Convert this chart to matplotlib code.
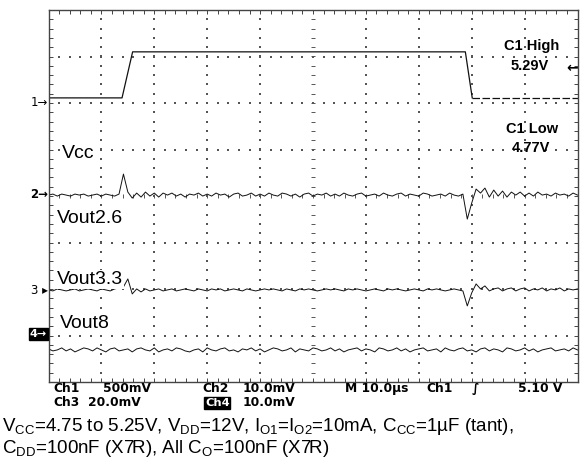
import numpy as np
import matplotlib.pyplot as plt

plt.rcParams['font.family'] = ['Liberation Sans', 'DejaVu Sans']
plt.rcParams['mathtext.fontset'] = 'custom'
plt.rcParams['mathtext.rm'] = 'Liberation Sans'

W, H = 584, 466
PX_DIV_Y = 46.5  # pixels per vertical division

# channel 1 (Vcc step), in divisions
ch1_x = [0, 1.39, 1.59, 7.88, 8.01]
ch1_y = [6.11, 6.11, 7.10, 7.10, 6.11]
ch1_tail_x = [8.01, 10.0]
ch1_tail_y = [6.11, 6.11]

# baselines of the noisy traces (divisions)
ch2_base = 4.02
ch3_base = 1.98
ch4_base = 0.69

# trace samples, offsets in screen pixels (up = positive)
ch2_off = [0, 1, -1, 1, 0, -1, 1, 0, 1, -1,
           0, 1, -1, 1, 0, -1, 1, 21, 3, -3,
           2, -2, 3, -1, 2, -2, 2, 0, 2, -1,
           1, -2, 1, 0, 2, -1, 1, -1, 2, 0,
           1, -2, 1, 2, -1, 0, 2, -1, 1, -1,
           2, 0, -1, 2, 1, -1, 1, -2, 1, 2,
           -1, 1, 0, 2, -1, 1, -1, 2, 0, -1,
           1, 2, -1, 0, 1, -1, 2, 0, -1, 1,
           2, -1, 1, 0, -1, 2, 1, -1, 0, 1,
           -1, 2, 0, -1, 1, -24, -8, 6, 2, 7,
           -2, 5, -1, 4, -2, 3, 0, 3, -1, 2,
           -1, 3, 0, 1, -1, 2, 0, 1, -1, 2,
           0]
ch3_off = [0, -1, 1, 0, -1, 0, 1, -1, 0, 1,
           0, -1, 1, 0, -1, 1, 2, 3, 11, -4,
           1, -2, 1, -1, 0, 1, -1, 0, 1, -1,
           0, 1, 0, -1, 1, 0, -1, 1, 0, 1,
           -1, 0, 1, 0, -1, 1, 0, -1, 0, 1,
           0, 1, 0, -1, 1, 0, -1, 1, 0, 1,
           0, -1, 0, 1, 0, 1, 0, -1, 1, 0,
           1, 0, -1, 0, 1, 0, -1, 1, 0, 1,
           0, -1, 0, 1, 0, -1, 1, 0, 1, 0,
           -1, 0, 1, 0, -1, -16, -3, 6, 1, 4,
           -1, 1, 2, -1, 1, 2, -1, 1, 2, -1,
           1, 0, 2, -1, 1, 0, 2, -1, 1, 0,
           1]
ch4_off = [1, -1, 0, 2, -1, 1, -2, 0, 2, 1,
           -1, 2, 0, -2, 1, 2, -1, 0, 1, -2,
           1, 2, 0, -1, 2, -2, 0, 1, -1, 2,
           1, -1, -2, 0, 1, -2, 2, 0, -1, 1,
           2, -1, 0, -2, 1, 0, 2, -1, 1, -2,
           0, 2, 1, -1, 0, 2, -2, 1, 0, -1,
           2, 1, -1, 0, 2, -1, 1, -2, 0, 1,
           2, -1, 1, 0, -2, 2, 1, -1, 0, 2,
           -1, 1, -2, 0, 1, 2, -1, 0, 1, -2,
           2, 0, -1, 1, 2, -1, 0, -2, 1, 2,
           -1, 1, 0, -2, 2, 1, -1, 0, 2, -1,
           1, -2, 0, 1, 2, -1, 0, 1, -1, 2,
           0]

trace_labels = ['Vcc', 'Vout2.6', 'Vout3.3', 'Vout8']
scope_line1 = [('Ch1', 53), ('500mV', 103), ('Ch2', 202), ('10.0mV', 243),
               ('M 10.0µs', 345), ('Ch1', 426), ('∫', 472), ('5.10 V', 518)]
scope_line2 = [('Ch3', 53), ('20.0mV', 88), ('10.0mV', 243)]
caption1 = (r'V$_\mathregular{CC}$=4.75 to 5.25V, V$_\mathregular{DD}$=12V, '
            r'I$_\mathregular{O1}$=I$_\mathregular{O2}$=10mA, C$_\mathregular{CC}$=1µF (tant),')
caption2 = r'C$_\mathregular{DD}$=100nF (X7R), All C$_\mathregular{O}$=100nF (X7R)'


def fx(x):
    return x / W


def fy(y):
    return 1 - y / H


fig = plt.figure(figsize=(W / 100, H / 100), dpi=100)
ax = fig.add_axes([48.5 / W, 1 - 382 / H, 529 / W, 372 / H])
ax.set_xlim(0, 10)
ax.set_ylim(0, 8)

# graticule
dot_c = '#555555'
for xv in range(1, 10):
    if xv == 5:
        continue
    ax.scatter(np.full(39, xv), np.arange(0.2, 8, 0.2), s=0.8, c=dot_c, marker='s', linewidths=0)
for yv in range(1, 8):
    if yv == 4:
        continue
    ax.scatter(np.arange(0.2, 10, 0.2), np.full(49, yv), s=0.8, c=dot_c, marker='s', linewidths=0)
# centre cross with small ticks
ax.scatter(np.full(200, 5), np.linspace(0, 8, 200), s=0.5, c=dot_c, marker='s', linewidths=0)
ax.scatter(np.linspace(0, 10, 250), np.full(250, 4), s=0.5, c=dot_c, marker='s', linewidths=0)
ax.scatter(np.full(39, 5), np.arange(0.2, 8, 0.2), s=12, c=dot_c, marker='_', linewidths=0.7)
ax.scatter(np.arange(0.2, 10, 0.2), np.full(49, 4), s=12, c=dot_c, marker='|', linewidths=0.7)

ax.set_xticks(np.arange(0, 10.01, 1))
ax.set_xticks(np.arange(0, 10.01, 0.2), minor=True)
ax.set_yticks(np.arange(0, 8.01, 1))
ax.set_yticks(np.arange(0, 8.01, 0.2), minor=True)
ax.tick_params(which='both', direction='in', length=3, width=0.7, color='#444444',
               top=True, right=True, labelbottom=False, labelleft=False)
for s in ax.spines.values():
    s.set_color('#444444')
    s.set_linewidth(1.0)

# traces
tc = '#111111'
ax.plot(ch1_x, ch1_y, color=tc, lw=0.9)
ax.plot(ch1_tail_x, ch1_tail_y, color=tc, lw=0.9, ls=(0, (6, 2)))
for base, off in [(ch2_base, ch2_off), (ch3_base, ch3_off), (ch4_base, ch4_off)]:
    xs = np.linspace(0, 10, len(off))
    ax.plot(xs, base + np.array(off) / PX_DIV_Y, color=tc, lw=0.7)

# trace labels
lab_pos = [(62, 158), (57, 223), (57, 284), (60, 328)]
for t, (x, y) in zip(trace_labels, lab_pos):
    fig.text(fx(x), fy(y), t, fontsize=14, va='baseline', ha='left',
             bbox=dict(boxstyle='square,pad=0.05', fc='white', ec='none'))

# cursor readouts
fig.text(fx(532), fy(50), 'C1 High', fontsize=10.5, weight='bold', ha='center', va='baseline')
fig.text(fx(530), fy(70), '5.29V', fontsize=10.5, weight='bold', ha='center', va='baseline')
fig.text(fx(532), fy(133), 'C1 Low', fontsize=10.5, weight='bold', ha='center', va='baseline')
fig.text(fx(531), fy(152), '4.77V', fontsize=10.5, weight='bold', ha='center', va='baseline')
fig.text(fx(578), fy(68), '←', fontsize=10, weight='bold', ha='right', va='center',
         family='DejaVu Sans')

# channel markers
fig.text(fx(48), fy(103), '1→', fontsize=8.5, ha='right', va='center', family='DejaVu Sans')
fig.text(fx(48), fy(195), '2→', fontsize=8.5, ha='right', va='center', family='DejaVu Sans',
         weight='bold')
fig.text(fx(48), fy(290), '3 ▸', fontsize=8.5, ha='right', va='center', family='DejaVu Sans')
fig.text(fx(47), fy(334), '4→', fontsize=8, ha='right', va='center', family='DejaVu Sans',
         color='white', weight='bold',
         bbox=dict(boxstyle='square,pad=0.1', fc='black', ec='black'))

# scope status text
for t, x in scope_line1:
    fig.text(fx(x), fy(392), t, fontsize=8.8, weight='bold', ha='left', va='baseline',
             family='DejaVu Sans')
for t, x in scope_line2:
    fig.text(fx(x), fy(406), t, fontsize=8.8, weight='bold', ha='left', va='baseline',
             family='DejaVu Sans')
fig.text(fx(205), fy(406), 'Ch4', fontsize=8.2, weight='bold', ha='left', va='baseline',
         family='DejaVu Sans', color='white',
         bbox=dict(boxstyle='square,pad=0.05', fc='black', ec='black'))

# caption
fig.text(fx(2), fy(431), caption1, fontsize=13.5, ha='left', va='baseline')
fig.text(fx(2), fy(453), caption2, fontsize=13.5, ha='left', va='baseline')

fig.savefig('out.png', dpi=100)
